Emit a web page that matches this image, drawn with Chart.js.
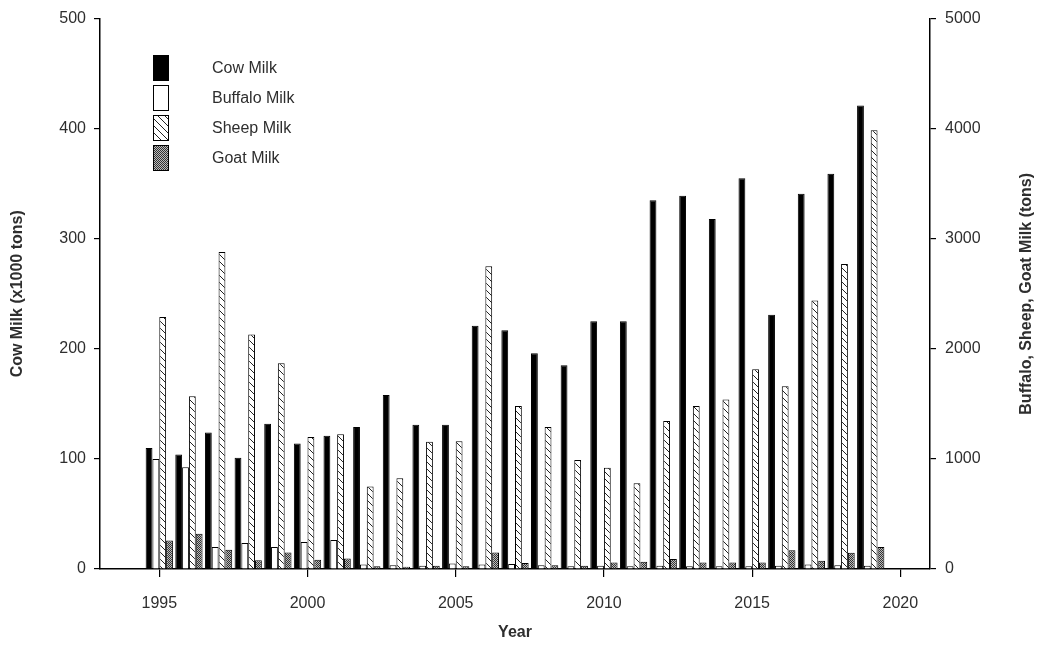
<!DOCTYPE html>
<html>
    <head>
        <script src="https://cdn.jsdelivr.net/npm/chart.js@4.4.1/dist/chart.umd.min.js"></script>
        <style>
            body { margin: 0; background: #fff; }
        </style>
    </head>
    <body>
        <div>
            <canvas id="myChart" width="1043" height="646"></canvas>
        </div>

        <script>
            // DATA
            const years = [1995, 1996, 1997, 1998, 1999, 2000, 2001, 2002, 2003, 2004, 2005, 2006, 2007,
                           2008, 2009, 2010, 2011, 2012, 2013, 2014, 2015, 2016, 2017, 2018, 2019];
            const cowMilk = [110, 104, 124, 101, 132, 114, 121, 129, 158, 131, 131, 221, 217,
                             196, 185, 225, 225, 335, 339, 318, 355, 231, 341, 359, 421];
            const buffaloMilk = [1000, 925, 200, 236, 200, 245, 263, 40, 35, 30, 50, 40, 45,
                                 35, 25, 30, 25, 30, 25, 25, 25, 30, 40, 35, 30];
            const sheepMilk = [2290, 1570, 2880, 2130, 1870, 1200, 1225, 750, 825, 1155, 1160, 2750, 1480,
                               1290, 990, 920, 780, 1345, 1480, 1540, 1815, 1660, 2440, 2770, 3985];
            const goatMilk = [260, 320, 175, 80, 150, 85, 95, 25, 20, 30, 25, 150, 55,
                              35, 30, 60, 65, 90, 60, 60, 60, 170, 75, 148, 200];
            const xTicks = [1995, 2000, 2005, 2010, 2015, 2020];
            const rightTitle = 'Buffalo, Sheep, Goat Milk (tons)';

            const FONT = "'Liberation Sans', Arial, sans-serif";
            const TEXT = '#2e2e2e';

            // patterns for sheep (hatch) and goat (dots)
            function hatchPattern() {
                const c = document.createElement('canvas');
                c.width = 7; c.height = 7;
                const g = c.getContext('2d');
                g.fillStyle = '#fff';
                g.fillRect(0, 0, 7, 7);
                g.strokeStyle = '#222';
                g.lineWidth = 1;
                g.beginPath();
                g.moveTo(-1, -1); g.lineTo(8, 8);
                g.moveTo(-1, 6); g.lineTo(1, 8);
                g.moveTo(6, -1); g.lineTo(8, 1);
                g.stroke();
                return g.createPattern(c, 'repeat');
            }
            function dotPattern() {
                const c = document.createElement('canvas');
                c.width = 2; c.height = 2;
                const g = c.getContext('2d');
                g.fillStyle = '#bbb';
                g.fillRect(0, 0, 2, 2);
                g.fillStyle = '#333';
                g.fillRect(0, 0, 1, 1);
                g.fillRect(1, 1, 1, 1);
                return g.createPattern(c, 'repeat');
            }

            const pts = arr => years.map((y, i) => ({ x: y, y: arr[i] }));

            // SETUP
            const data = {
                datasets: [{
                    label: 'Cow Milk',
                    data: pts(cowMilk),
                    yAxisID: 'y',
                    backgroundColor: '#000',
                    borderColor: '#000',
                    borderWidth: 1
                },{
                    label: 'Buffalo Milk',
                    data: pts(buffaloMilk),
                    yAxisID: 'y1',
                    backgroundColor: '#fff',
                    borderColor: '#000',
                    borderWidth: 1
                },{
                    label: 'Sheep Milk',
                    data: pts(sheepMilk),
                    yAxisID: 'y1',
                    backgroundColor: hatchPattern(),
                    borderColor: '#000',
                    borderWidth: 1
                },{
                    label: 'Goat Milk',
                    data: pts(goatMilk),
                    yAxisID: 'y1',
                    backgroundColor: dotPattern(),
                    borderColor: '#000',
                    borderWidth: 1
                }]
            };

            // legend inside the plot (top left) + right axis title reading bottom-to-top
            const extras = {
                id: 'extras',
                afterDraw(chart) {
                    const ctx = chart.ctx;
                    ctx.save();
                    chart.data.datasets.forEach((ds, i) => {
                        const x = 153, y = 55 + i * 30;
                        ctx.fillStyle = ds.backgroundColor;
                        ctx.fillRect(x, y, 16, 26);
                        ctx.strokeStyle = '#000';
                        ctx.lineWidth = 1;
                        ctx.strokeRect(x + 0.5, y + 0.5, 15, 25);
                        ctx.fillStyle = TEXT;
                        ctx.font = '16px ' + FONT;
                        ctx.textBaseline = 'middle';
                        ctx.fillText(ds.label, 212, y + 14);
                    });
                    const a = chart.chartArea;
                    ctx.translate(1027, (a.top + a.bottom) / 2);
                    ctx.rotate(-Math.PI / 2);
                    ctx.font = 'bold 16px ' + FONT;
                    ctx.textAlign = 'center';
                    ctx.textBaseline = 'middle';
                    ctx.fillStyle = TEXT;
                    ctx.fillText(rightTitle, 0, 0);
                    ctx.restore();
                }
            };

            const axisGrid = len => ({ drawOnChartArea: false, drawTicks: true, tickLength: len, color: '#000', lineWidth: 1.2 });
            const axisBorder = { display: true, color: '#000', width: 1.5 };

            // CONFIG
            const config = {
                type: 'bar',
                data,
                plugins: [extras],
                options: {
                    responsive: false,
                    animation: false,
                    layout: { padding: { top: 18, left: 0, right: 0, bottom: 0 } },
                    datasets: { bar: { categoryPercentage: 0.92, barPercentage: 1.0 } },
                    plugins: { legend: { display: false }, tooltip: { enabled: false } },
                    scales: {
                        x: {
                            type: 'linear',
                            min: 1993,
                            max: 2021,
                            offset: false,
                            grid: Object.assign(axisGrid(8), { offset: false }),
                            border: axisBorder,
                            afterBuildTicks: s => { s.ticks = xTicks.map(v => ({ value: v })); },
                            afterFit: s => { s.height = 77; },
                            ticks: {
                                padding: 17,
                                color: TEXT,
                                font: { family: FONT, size: 16 },
                                callback: v => String(v)
                            },
                            title: {
                                display: true,
                                text: 'Year',
                                color: TEXT,
                                padding: { top: 0, bottom: 4 },
                                font: { family: FONT, size: 16, weight: 'bold' }
                            }
                        },
                        y: {
                            position: 'left',
                            min: 0,
                            max: 500,
                            grid: axisGrid(6),
                            border: axisBorder,
                            afterFit: s => { s.width = 100; },
                            ticks: {
                                stepSize: 100,
                                padding: 8,
                                color: TEXT,
                                font: { family: FONT, size: 16 },
                                callback: v => String(v)
                            },
                            title: {
                                display: true,
                                text: 'Cow Milk (x1000 tons)',
                                color: TEXT,
                                padding: { top: 8, bottom: 0 },
                                font: { family: FONT, size: 16, weight: 'bold' }
                            }
                        },
                        y1: {
                            position: 'right',
                            min: 0,
                            max: 5000,
                            grid: axisGrid(6),
                            border: axisBorder,
                            afterFit: s => { s.width = 113; },
                            ticks: {
                                stepSize: 1000,
                                padding: 9,
                                color: TEXT,
                                font: { family: FONT, size: 16 },
                                callback: v => String(v)
                            },
                            title: { display: false }
                        }
                    }
                }
            };

            // RENDER
            const myChart = new Chart(
                document.getElementById('myChart'),
                config
            );
        </script>
    </body>
</html>
